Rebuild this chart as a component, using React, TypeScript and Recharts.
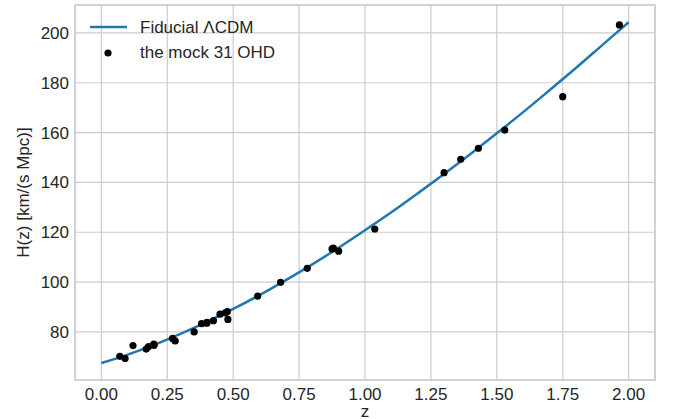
import {
  ComposedChart,
  Line,
  Scatter,
  XAxis,
  YAxis,
  CartesianGrid,
  Legend,
  ReferenceArea,
} from 'recharts';

// fiducial curve
const curveZ = [0, 0.1, 0.2, 0.3, 0.4, 0.5, 0.6, 0.7, 0.8, 0.9, 1.0, 1.1, 1.2, 1.3, 1.4, 1.5, 1.6, 1.7, 1.8, 1.9, 2.0];
const curveH = [67.5, 70.9, 74.8, 79.2, 84.0, 89.2, 94.8, 100.8, 107.1, 113.8, 120.8, 128.0, 135.6, 143.4, 151.4, 159.7, 168.2, 177.0, 185.9, 195.1, 204.3];

// mock OHD points
const ohdZ = [
  0.07, 0.09, 0.12, 0.17, 0.179, 0.199, 0.2, 0.27, 0.28, 0.352, 0.38, 0.4, 0.4004, 0.425, 0.45, 0.47,
  0.478, 0.48, 0.593, 0.68, 0.781, 0.875, 0.88, 0.9, 1.037, 1.3, 1.363, 1.43, 1.53, 1.75, 1.965,
];
const ohdH = [
  70.2, 69.3, 74.5, 73.1, 74.1, 75.1, 74.6, 77.4, 76.4, 80.0, 83.3, 83.5, 83.8, 84.5, 87.1, 87.6,
  88.2, 85.0, 94.4, 99.9, 105.5, 113.3, 113.6, 112.4, 121.3, 143.9, 149.3, 153.7, 161.0, 174.4, 203.2,
];

const xTicks = [0, 0.25, 0.5, 0.75, 1.0, 1.25, 1.5, 1.75, 2.0];
const yTicks = [80, 100, 120, 140, 160, 180, 200];

const xDomain = [-0.1, 2.1];
const yDomain = [60.7, 211.2];

const curve = curveZ.map((z, i) => ({ z, H: curveH[i] }));
const points = ohdZ.map((z, i) => ({ z, H: ohdH[i] }));

const FONT = '"Liberation Sans", Arial, sans-serif';
const TEXT = '#262626';
const GRID = '#cccccc';
const BLUE = '#1f77b4';

const LegendBox = () => (
  <svg width={300} height={70} style={{ display: 'block' }}>
    <line x1={90} y1={27} x2={127} y2={27} stroke={BLUE} strokeWidth={2.5} />
    <text x={140} y={33} fontSize={17} fill={TEXT} fontFamily={FONT}>
      Fiducial ΛCDM
    </text>
    <circle cx={108} cy={53} r={3.6} fill="#000" />
    <text x={140} y={58} fontSize={17} fill={TEXT} fontFamily={FONT}>
      the mock 31 OHD
    </text>
  </svg>
);

export default function App() {
  return (
    <div style={{ position: 'absolute', left: 0, top: 0, width: 673, height: 419, background: '#fff' }}>
      <ComposedChart
        width={673}
        height={419}
        margin={{ top: 5, right: 18, left: 0, bottom: 0 }}
        style={{ fontFamily: FONT }}
      >
        <CartesianGrid stroke={GRID} strokeWidth={1.2} />
        <XAxis
          dataKey="z"
          type="number"
          domain={xDomain}
          ticks={xTicks}
          allowDataOverflow
          tickFormatter={(v) => v.toFixed(2)}
          axisLine={false}
          tickLine={false}
          tickSize={0}
          tickMargin={8}
          height={39}
          tick={{ fontSize: 17, fill: TEXT }}
          label={{ value: 'z', position: 'insideBottom', offset: 2, fontSize: 17, fill: TEXT }}
        />
        <YAxis
          dataKey="H"
          type="number"
          domain={yDomain}
          ticks={yTicks}
          allowDataOverflow
          axisLine={false}
          tickLine={false}
          tickSize={0}
          tickMargin={6}
          width={75}
          tick={{ fontSize: 17, fill: TEXT }}
          label={{
            value: 'H(z) [km/(s Mpc)]',
            angle: -90,
            position: 'insideLeft',
            offset: 23,
            fontSize: 17,
            fill: TEXT,
            style: { textAnchor: 'middle' },
          }}
        />
        <ReferenceArea
          x1={xDomain[0]}
          x2={xDomain[1]}
          y1={yDomain[0]}
          y2={yDomain[1]}
          fill="none"
          stroke={GRID}
          strokeWidth={1.5}
          ifOverflow="visible"
        />
        <Line
          data={curve}
          dataKey="H"
          type="monotone"
          stroke={BLUE}
          strokeWidth={2.5}
          dot={false}
          isAnimationActive={false}
        />
        <Scatter
          data={points}
          dataKey="H"
          fill="#000"
          isAnimationActive={false}
          shape={(p: any) => <circle cx={p.cx} cy={p.cy} r={3.6} fill="#000" />}
        />
        <Legend
          layout="vertical"
          align="center"
          verticalAlign="middle"
          wrapperStyle={{ left: 0, top: 0, width: 300, height: 70 }}
          content={() => <LegendBox />}
        />
      </ComposedChart>
    </div>
  );
}
